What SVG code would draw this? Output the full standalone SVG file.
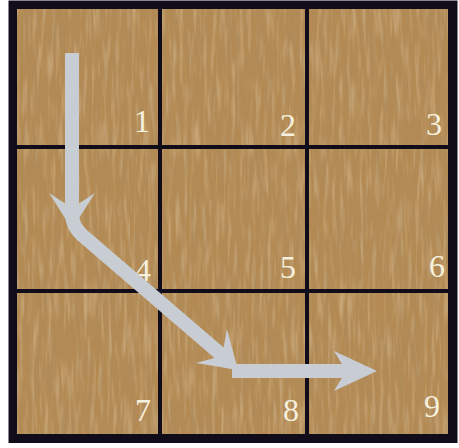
<svg xmlns="http://www.w3.org/2000/svg" width="459" height="448" viewBox="0 0 459 448">
  <defs>
    <filter id="grain" x="0" y="0" width="100%" height="100%" filterUnits="objectBoundingBox">
      <feTurbulence type="fractalNoise" baseFrequency="0.3 0.015" numOctaves="3" seed="7" result="n"/>
      <feColorMatrix in="n" type="matrix" values="0 0 0 0 0.40  0 0 0 0 0.26  0 0 0 0 0.12  1.1 0 0 0 -0.42"/>
    </filter>
    <filter id="grain2" x="0" y="0" width="100%" height="100%" filterUnits="objectBoundingBox">
      <feTurbulence type="fractalNoise" baseFrequency="0.25 0.025" numOctaves="2" seed="3" result="n"/>
      <feColorMatrix in="n" type="matrix" values="0 0 0 0 0.84  0 0 0 0 0.68  0 0 0 0 0.46  0.9 0 0 0 -0.42"/>
    </filter>
  </defs>
  <style>
    .cell { fill: none; stroke: #100c1a; stroke-width: 4; }
    .num { font-family: "Liberation Serif", "Times New Roman", serif; font-size: 32px; fill: #f6f0de; text-anchor: middle; }
    .shaft { fill: none; stroke: #c8cdd4; stroke-width: 14; stroke-linejoin: round; stroke-linecap: butt; }
    .head { fill: #c8cdd4; }
  </style>
  <rect x="0" y="0" width="459" height="448" fill="#ffffff"/>
  <g id="board">
    <rect x="15" y="7" width="435" height="429" fill="#b38a53"/>
    <rect x="15" y="7" width="435" height="429" fill="#000" filter="url(#grain)"/>
    <rect x="15" y="7" width="435" height="429" fill="#000" filter="url(#grain2)"/>
  </g>
  <g id="cell1"><rect class="cell" x="15" y="7" width="145" height="140"/><text class="num" x="142" y="132">1</text></g>
  <g id="cell2"><rect class="cell" x="160" y="7" width="147" height="140"/><text class="num" x="288" y="136">2</text></g>
  <g id="cell3"><rect class="cell" x="307" y="7" width="143" height="140"/><text class="num" x="434" y="135">3</text></g>
  <g id="cell4"><rect class="cell" x="15" y="147" width="145" height="144"/><text class="num" x="143" y="281">4</text></g>
  <g id="cell5"><rect class="cell" x="160" y="147" width="147" height="144"/><text class="num" x="288" y="278">5</text></g>
  <g id="cell6"><rect class="cell" x="307" y="147" width="143" height="144"/><text class="num" x="437" y="277">6</text></g>
  <g id="cell7"><rect class="cell" x="15" y="291" width="145" height="145"/><text class="num" x="143" y="421">7</text></g>
  <g id="cell8"><rect class="cell" x="160" y="291" width="147" height="145"/><text class="num" x="291" y="421">8</text></g>
  <g id="cell9"><rect class="cell" x="307" y="291" width="143" height="145"/><text class="num" x="432" y="417">9</text></g>
  <rect x="12" y="4" width="442" height="435.5" fill="none" stroke="#100c1a" stroke-width="7"/>
  <g id="connectors">
    <path class="shaft" d="M72,53 L72,214 Q72,226 82,235 L224,357"/>
    <path class="head" d="M72,229 L49,193 L72,208 L95,193 Z"/>
    <path class="shaft" d="M232,371 L348,371"/>
    <path class="head" d="M238,370 L196,363 L222,356 L227,329 Z"/>
    <path class="head" d="M377,371 L334,351 L346,371 L334,391 Z"/>
  </g>
</svg>
